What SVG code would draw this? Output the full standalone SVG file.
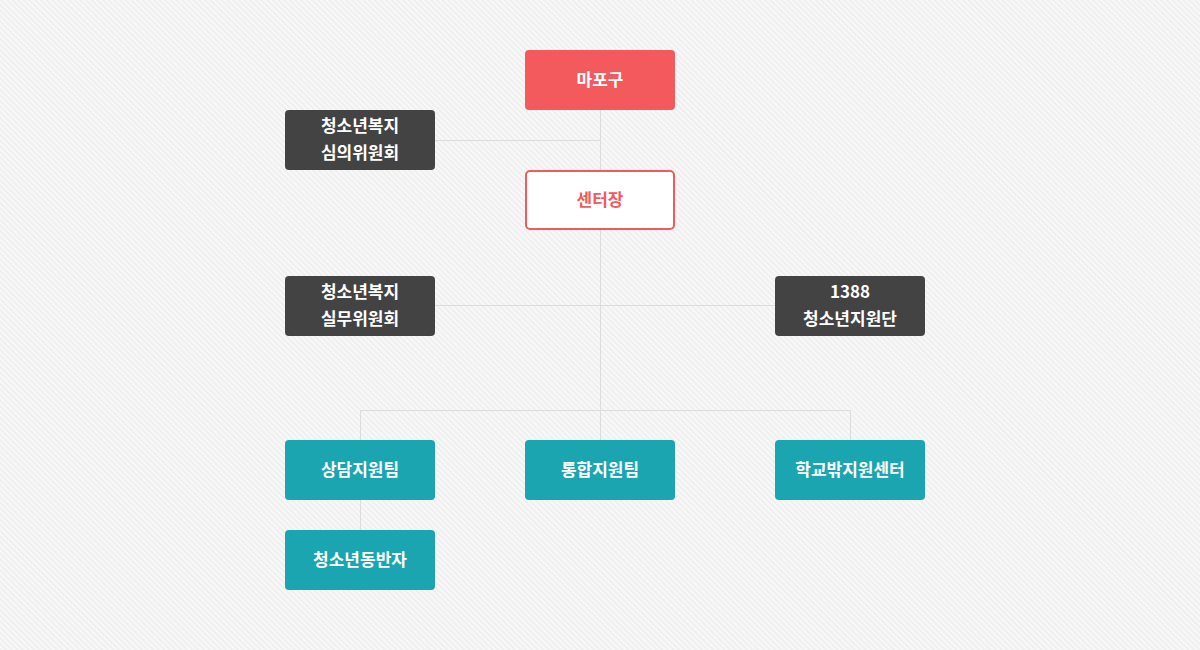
<svg xmlns="http://www.w3.org/2000/svg" width="1200" height="650" viewBox="0 0 1200 650">
<defs>
<pattern id="bg" width="4" height="4" patternUnits="userSpaceOnUse" patternTransform="rotate(-45)">
<rect width="4" height="4" fill="#f8f8f8"/>
<rect width="1.5" height="4" fill="#ededed"/>
</pattern>
<style>
.t{font-family:"Noto Sans CJK KR","Noto Sans",sans-serif;font-size:17px;font-weight:700;fill:#fff;text-anchor:middle}
.red{fill:#f25a5d}
.dark{fill:#434343}
.teal{fill:#1ba5b0}
.conn{stroke:#dcdcdc;stroke-width:1;fill:none}
</style>
</defs>
<rect width="1200" height="650" fill="url(#bg)"/>
<g id="connectors" class="conn">
<path d="M600.5 110V440"/>
<path d="M435 140.5H600"/>
<path d="M435 305.5H775"/>
<path d="M360.5 440V410.5H850.5V440"/>
<path d="M360.5 500V530"/>
</g>
<g id="mapo"><rect class="red" x="525" y="50" width="150" height="60" rx="4"/><text class="t" x="600" y="86">마포구</text></g>
<g id="simui"><rect class="dark" x="285" y="110" width="150" height="60" rx="4"/><text class="t" x="360" y="132">청소년복지</text><text class="t" x="360" y="159">심의위원회</text></g>
<g id="center"><rect x="526" y="171" width="148" height="58" rx="4" fill="#fff" stroke="#f25a5d" stroke-width="2"/><text class="t" x="600" y="206" style="fill:#f25a5d">센터장</text></g>
<g id="silmu"><rect class="dark" x="285" y="276" width="150" height="60" rx="4"/><text class="t" x="360" y="298">청소년복지</text><text class="t" x="360" y="325">실무위원회</text></g>
<g id="c1388"><rect class="dark" x="775" y="276" width="150" height="60" rx="4"/><text class="t" x="850" y="298">1388</text><text class="t" x="850" y="325">청소년지원단</text></g>
<g id="sangdam"><rect class="teal" x="285" y="440" width="150" height="60" rx="4"/><text class="t" x="360" y="476">상담지원팀</text></g>
<g id="tonghap"><rect class="teal" x="525" y="440" width="150" height="60" rx="4"/><text class="t" x="600" y="476">통합지원팀</text></g>
<g id="hakgyo"><rect class="teal" x="775" y="440" width="150" height="60" rx="4"/><text class="t" x="850" y="476">학교밖지원센터</text></g>
<g id="dongban"><rect class="teal" x="285" y="530" width="150" height="60" rx="4"/><text class="t" x="360" y="566">청소년동반자</text></g>
</svg>
